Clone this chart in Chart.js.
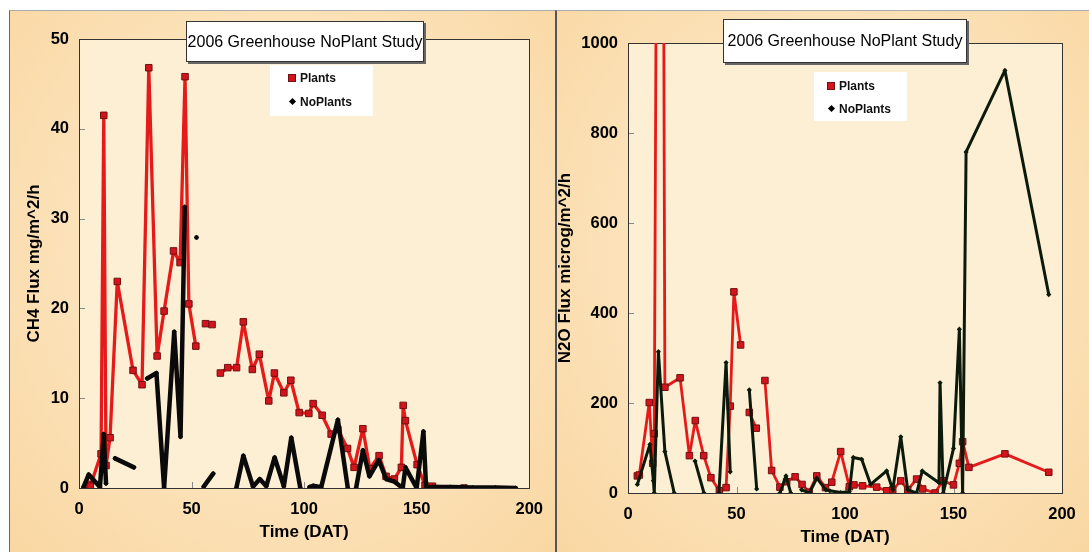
<!DOCTYPE html>
<html>
<head>
<meta charset="utf-8">
<script src="https://cdn.jsdelivr.net/npm/chart.js@4.4.0/dist/chart.umd.min.js"></script>
<style>
    body { margin: 0; width: 1089px; height: 552px; overflow: hidden; background: #fff; position: relative; font-family: 'Liberation Sans', Arial, sans-serif; }
    .panel { position: absolute; top: 10px; height: 542px; background: radial-gradient(ellipse at 50% 45%, #fde9c6 0%, #fce2b9 55%, #f9d7a2 100%); }
    #panelL { left: 9px; width: 546px; border-left: 1px solid #666; border-top: 1px solid #aaa; }
    #panelR { left: 555px; width: 534px; border-left: 2px solid #555; border-top: 1px solid #aaa; }
    canvas { position: absolute; top: 0; }
    .titleBox { position: absolute; background: #fff; border: 1px solid #333; box-shadow: 2px 2px 0 #666; box-sizing: border-box; font-size: 16px; color: #000; text-align: center; white-space: nowrap; }
    .legendBox { position: absolute; background: #fff; box-sizing: border-box; font-size: 12px; font-weight: bold; color: #111; }
    .legendItem { position: absolute; left: 0; height: 14px; line-height: 14px; }
    .sq { position: absolute; width: 6px; height: 6px; background: #d4141c; border: 1px solid #701010; }
    .dm { position: absolute; width: 5px; height: 5px; background: #000; transform: rotate(45deg); }
</style>
</head>
<body>
<div class="panel" id="panelL"></div>
<div class="panel" id="panelR"></div>
<canvas id="ch4Chart" width="555" height="552" style="left:0"></canvas>
<canvas id="n2oChart" width="534" height="552" style="left:555px"></canvas>

<div class="titleBox" style="left:186px; top:21px; width:238px; height:41px; line-height:39px;">2006 Greenhouse NoPlant Study</div>
<div class="legendBox" style="left:270px; top:65px; width:103px; height:51px;">
    <div class="sq" style="left:18px; top:9px;"></div>
    <div class="legendItem" style="left:30px; top:6px;">Plants</div>
    <div class="dm" style="left:20px; top:34px;"></div>
    <div class="legendItem" style="left:30px; top:30px;">NoPlants</div>
</div>

<div class="titleBox" style="left:723px; top:19px; width:244px; height:44px; line-height:42px;">2006 Greenhouse NoPlant Study</div>
<div class="legendBox" style="left:814px; top:72px; width:93px; height:49px;">
    <div class="sq" style="left:13px; top:10px;"></div>
    <div class="legendItem" style="left:25px; top:7px;">Plants</div>
    <div class="dm" style="left:15px; top:34px;"></div>
    <div class="legendItem" style="left:25px; top:30px;">NoPlants</div>
</div>

<script>
// Data (null = no reading, breaks the line)
const ch4PlantsDay = [4, 5, 9.8, 11, 12, 13.8, 17, 24, 28, 31, 34.7, 37.8, 42, 44.9, 47.1, 48.8, 51.9, 54, 56.2, 57.6,
    59.1, 61, 62.8, 66.1, 70, 73, 77, 80.1, 84.3, 86.8, 91, 94.1, 97.8, 102.1, 104, 108, 112, 115, 119.3, 122.2,
    126.1, 129.2, 133.3, 136.4, 140.1, 143.2, 144, 145, 150.2, 153.7, 157, 171];
const ch4PlantsFlux = [0.4, 0.2, 3.8, 41.5, 2.5, 5.6, 23, 13.1, 11.5, 46.8, 14.7, 19.7, 26.4, 25.1, 45.8, 20.5, 15.8, null, 18.3, null,
    18.2, null, 12.8, 13.4, 13.4, 18.5, 13.2, 14.9, 9.7, 12.8, 10.6, 12.0, 8.4, 8.3, 9.4, 8.1, 6.0, 6.5, 4.4, 2.3,
    6.6, 2.15, 3.6, 1.3, 1.0, 2.3, 9.2, 7.5, 2.6, 0.3, 0.2, 0.0];

const ch4NoPlantsDay = [2, 4.3, 9.3, 11, 12, 14, 16, 24.4, 27, 30.3, 34.4, 37.8, 42.3, 45.1, 47, 49.5, 52.2, 54, 55.4, 59.6,
    65, 69.9, 73, 77.3, 80.3, 83.2, 86.9, 91, 94.3, 98.3, 100, 102.4, 104, 107.6, 115, 119.4, 121, 123.1, 126.1, 129,
    133.2, 136.4, 140.1, 143.8, 145, 150, 153, 154.2, 157, 165, 175, 185, 194];
const ch4NoPlantsFlux = [0.1, 1.5, 0.1, 6, 0.5, null, 3.3, 2.3, null, 12.2, 12.8, 0, 17.4, 5.7, 31.3, null, 27.9, null, 0.15, 1.6,
    null, 0, 3.6, 0.15, 1.0, 0.2, 3.4, 0.2, 5.6, 0, null, 0.1, 0.25, 0.1, 7.6, 0, null, 0, 4.2, 1.3,
    3.1, 1.0, 0.7, 0, 2.3, 0, 6.3, 0, 0.1, 0.1, 0.05, 0.05, 0];

const n2oPlantsDay = [4.3, 5.2, 9.8, 11.4, 12.1, 15, 17, 24, 28.3, 31, 34.9, 38.2, 42.1, 45.2, 47.1, 48.8, 51.9, 54, 55.9, 59.1,
    61, 63.1, 66.2, 70, 73.1, 77, 80.2, 83.5, 87, 91, 93.9, 98, 102, 104.1, 108.1, 114.6, 119.2, 122, 125.7, 128.9,
    133, 135.8, 141.5, 145, 150, 152.7, 154.2, 157.1, 173.7, 193.9];
const n2oPlantsFlux = [38, 40, 201, 66, 132, 3400, 235, 256, 83, 161, 83, 34, 5, 12, 193, 447, 329, null, 179, 144,
    null, 250, 50, 13, 25, 36, 19, 2, 38, 12, 24, 92, 14, 18, 16, 13, 5, 7, 27, 7,
    31, 9, 0, 27, 18, 66, 114, 57, 87, 46];

const n2oNoPlantsDay = [4.3, 10.1, 11.7, 12.1, 14, 17, 21.3, 26, 30.9, 35, 38, 41.9, 45.2, 47.1, 52, 55.9, 59.3, 65, 70, 72.8,
    75, 77.5, 80, 83.6, 87, 91.2, 93, 98, 102, 103.8, 107.7, 111.8, 119.2, 122, 125.7, 128.9, 133, 135.6, 143.3, 143.8,
    145.3, 150, 152.7, 154.2, 155.8, 173.7, 193.9];
const n2oNoPlantsFlux = [19, 108, 27, 0, 314, 92, 0, null, 71, 0, null, 0, 290, 47, null, 229, 9, null, 0, 38,
    0, null, 7, 0, 33, 7, 5, 1, 3, 79, 75, 19, 49, 7, 125, 7, 0, 49, 23, 245,
    0, 99, 364, 0, 758, 939, 441];

const xTicks = [0, 50, 100, 150, 200];
const ch4Ticks = [0, 10, 20, 30, 40, 50];
const n2oTicks = [0, 200, 400, 600, 800, 1000];

// Helpers
function pairs(xs, ys) {
    return xs.map((x, i) => ({ x: x, y: ys[i] }));
}

// plot area fill, frame and inward tick marks
const plotFrame = {
    id: 'plotFrame',
    beforeDraw(chart) {
        const { ctx, chartArea: a } = chart;
        ctx.save();
        ctx.fillStyle = '#fdefd4';
        ctx.fillRect(a.left, a.top, a.right - a.left, a.bottom - a.top);
        ctx.restore();
    },
    beforeDatasetsDraw(chart) {
        const { ctx, chartArea: a, scales } = chart;
        ctx.save();
        ctx.strokeStyle = '#888';
        ctx.lineWidth = 1;
        scales.x.ticks.forEach(t => {
            const px = Math.round(scales.x.getPixelForValue(t.value)) + 0.5;
            ctx.beginPath();
            ctx.moveTo(px, a.bottom);
            ctx.lineTo(px, a.bottom - 6);
            ctx.stroke();
        });
        scales.y.ticks.forEach(t => {
            const py = Math.round(scales.y.getPixelForValue(t.value)) + 0.5;
            ctx.beginPath();
            ctx.moveTo(a.left, py);
            ctx.lineTo(a.left + 6, py);
            ctx.stroke();
        });
        ctx.strokeStyle = '#333';
        ctx.strokeRect(Math.round(a.left) + 0.5, Math.round(a.top) + 0.5, Math.round(a.right - a.left), Math.round(a.bottom - a.top));
        ctx.restore();
    }
};

function makeChart(canvasId, cfg) {
    const tickFont = { family: "'Liberation Sans', Arial, sans-serif", size: 16.5, weight: 'bold' };
    const titleFont = { family: "'Liberation Sans', Arial, sans-serif", size: 17, weight: 'bold' };
    return new Chart(document.getElementById(canvasId), {
        type: 'line',
        data: {
            datasets: [
                {
                    label: 'Plants',
                    data: pairs(cfg.plantsDay, cfg.plantsFlux),
                    borderColor: '#e51a1a',
                    borderWidth: cfg.redWidth,
                    borderJoinStyle: 'round',
                    borderCapStyle: 'round',
                    pointStyle: 'rect',
                    pointRadius: 4.6,
                    pointBackgroundColor: '#d4141c',
                    pointBorderColor: '#701010',
                    pointBorderWidth: 1,
                    tension: 0,
                    order: 2
                },
                {
                    label: 'NoPlants',
                    data: pairs(cfg.noPlantsDay, cfg.noPlantsFlux),
                    borderColor: cfg.blackColor,
                    borderWidth: cfg.blackWidth,
                    borderJoinStyle: 'round',
                    borderCapStyle: 'round',
                    pointStyle: 'rectRot',
                    pointRadius: 2.6,
                    pointBackgroundColor: cfg.blackColor,
                    pointBorderColor: cfg.blackColor,
                    pointBorderWidth: 0,
                    tension: 0,
                    order: 1
                }
            ]
        },
        options: {
            responsive: false,
            animation: false,
            events: [],
            layout: { padding: cfg.padding },
            plugins: {
                legend: { display: false },
                tooltip: { enabled: false }
            },
            scales: {
                x: {
                    type: 'linear',
                    min: 0,
                    max: 200,
                    afterBuildTicks: s => { s.ticks = xTicks.map(v => ({ value: v })); },
                    afterFit: s => { s.height = cfg.xAxisHeight; },
                    grid: { display: false, drawTicks: false },
                    border: { display: false },
                    ticks: { color: '#000', font: tickFont, padding: 12, maxRotation: 0, callback: v => String(v) },
                    title: { display: true, text: 'Time (DAT)', color: '#000', font: titleFont, padding: { top: 0, bottom: cfg.xTitlePad } }
                },
                y: {
                    min: 0,
                    max: cfg.yMax,
                    afterBuildTicks: s => { s.ticks = cfg.yTicks.map(v => ({ value: v })); },
                    afterFit: s => { s.width = cfg.yAxisWidth; },
                    grid: { display: false, drawTicks: false },
                    border: { display: false },
                    ticks: { color: '#000', font: tickFont, padding: 10, callback: v => String(v) },
                    title: { display: true, text: cfg.yTitle, color: '#000', font: titleFont, padding: { top: cfg.yTitlePad, bottom: 0 } }
                }
            }
        },
        plugins: [plotFrame]
    });
}

// Left: CH4
makeChart('ch4Chart', {
    plantsDay: ch4PlantsDay, plantsFlux: ch4PlantsFlux,
    noPlantsDay: ch4NoPlantsDay, noPlantsFlux: ch4NoPlantsFlux,
    yMax: 50, yTicks: ch4Ticks, yTitle: 'CH4 Flux mg/m^2/h',
    redWidth: 3.3, blackWidth: 4.5, blackColor: '#0a0a0a',
    padding: { left: 0, top: 39, right: 25, bottom: 0 },
    xAxisHeight: 64, yAxisWidth: 79, xTitlePad: 9, yTitlePad: 24
});

// Right: N2O
makeChart('n2oChart', {
    plantsDay: n2oPlantsDay, plantsFlux: n2oPlantsFlux,
    noPlantsDay: n2oNoPlantsDay, noPlantsFlux: n2oNoPlantsFlux,
    yMax: 1000, yTicks: n2oTicks, yTitle: 'N2O Flux microg/m^2/h',
    redWidth: 2.8, blackWidth: 3, blackColor: '#0b1a0b',
    padding: { left: 0, top: 43, right: 27, bottom: 0 },
    xAxisHeight: 59, yAxisWidth: 73, xTitlePad: 4, yTitlePad: 0
});
</script>
</body>
</html>
